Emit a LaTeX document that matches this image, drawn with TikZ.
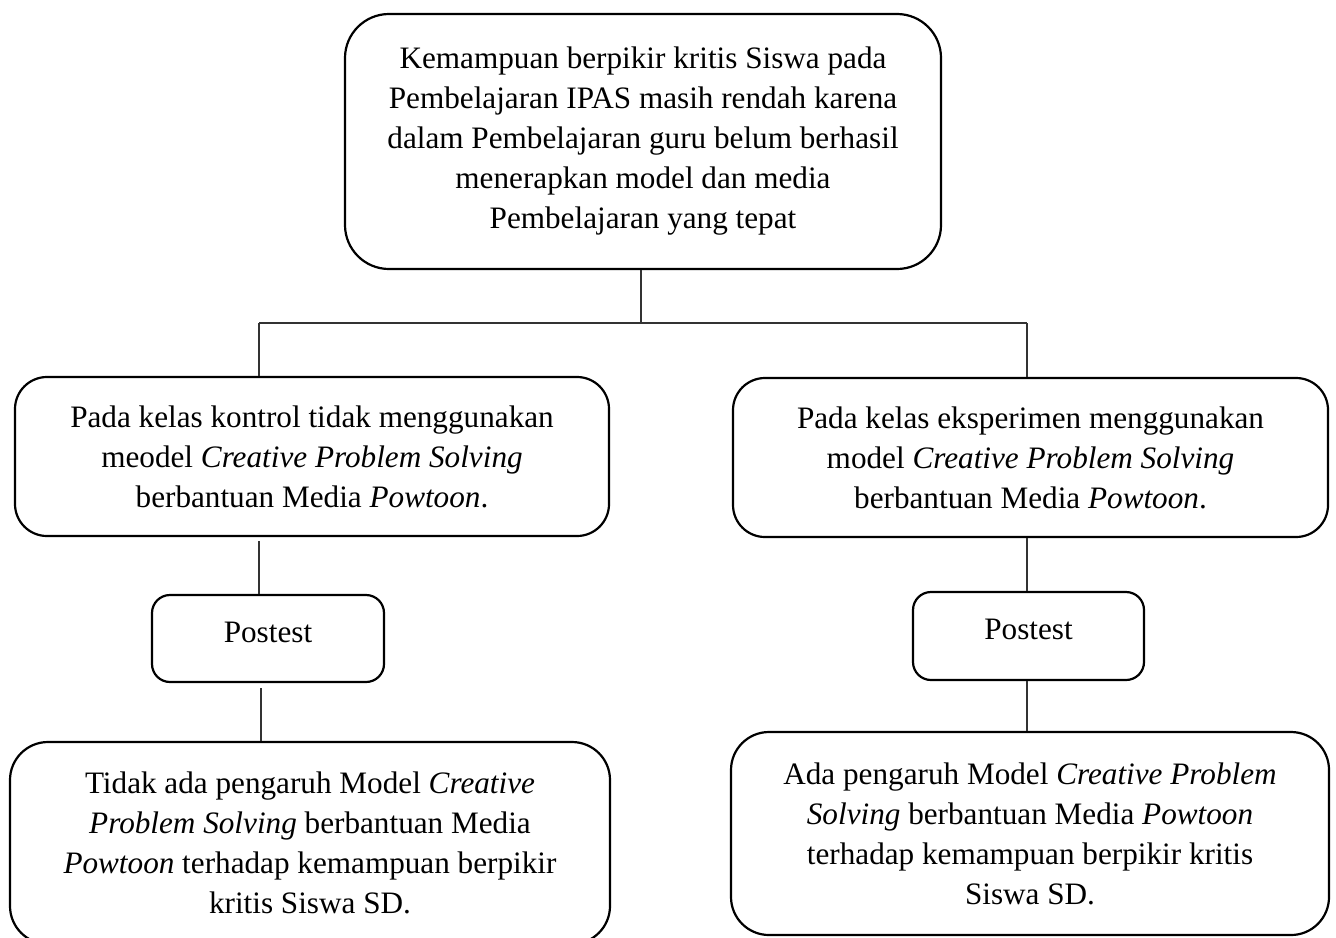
\documentclass[tikz,border=0pt]{standalone}
\usepackage{fontspec}
\setmainfont{Liberation Serif}
\begin{document}
\begin{tikzpicture}[x=0.5pt,y=-0.5pt,
  box/.style={draw=black, line width=1.1pt, align=center, inner sep=0pt,
    font=\fontsize{15.6}{20}\selectfont},
  conn/.style={draw=black!80, line width=0.75pt}]
\useasboundingbox (0,0) rectangle (1336,937);
\node[box, rounded corners=22pt, minimum width=298pt, minimum height=127.5pt] (top) at (643,141.5)
  {Kemampuan berpikir kritis Siswa pada\\Pembelajaran IPAS masih rendah karena\\dalam Pembelajaran guru belum berhasil\\menerapkan model dan media\\Pembelajaran yang tepat};
\node[box, rounded corners=16pt, minimum width=297pt, minimum height=79.5pt] (lmid) at (312,456.5)
  {Pada kelas kontrol tidak menggunakan\\meodel \textit{Creative Problem Solving}\\berbantuan Media \textit{Powtoon}.};
\node[box, rounded corners=16pt, minimum width=297.5pt, minimum height=79.5pt] (rmid) at (1030.5,457.5)
  {Pada kelas eksperimen menggunakan\\model \textit{Creative Problem Solving}\\berbantuan Media \textit{Powtoon}.};
\node[box, rounded corners=9pt, minimum width=116pt, minimum height=43.5pt] (lpost) at (268,638.5)
  {\raisebox{6pt}{Postest}};
\node[box, rounded corners=9pt, minimum width=115.5pt, minimum height=44pt] (rpost) at (1028.5,636)
  {\raisebox{6.5pt}{Postest}};
\node[box, rounded corners=19pt, minimum width=300pt, minimum height=101pt] (lbot) at (310,843)
  {Tidak ada pengaruh Model \textit{Creative}\\\textit{Problem Solving} berbantuan Media\\\textit{Powtoon} terhadap kemampuan berpikir\\kritis Siswa SD.};
\node[box, rounded corners=19pt, minimum width=299pt, minimum height=101.5pt] (rbot) at (1030,833.5)
  {Ada pengaruh Model \textit{Creative Problem}\\\textit{Solving} berbantuan Media \textit{Powtoon}\\terhadap kemampuan berpikir kritis\\Siswa SD.};
\coordinate (jm) at (641,323);
\coordinate (jl) at (259,323);
\coordinate (jr) at (1027,323);
\draw[conn] (top.south -| jm) -- (jm);
\draw[conn] (jl) -- (jr);
\draw[conn] (jl) -- (jl |- lmid.north);
\draw[conn] (jr) -- (jr |- rmid.north);
\draw[conn] ([yshift=-2pt]lmid.south -| jl) -- (lpost.north -| jl);
\draw[conn] ([yshift=-2.5pt,xshift=1pt]lpost.south -| jl) -- ([xshift=1pt]lbot.north -| jl);
\draw[conn] (rmid.south -| jr) -- (rpost.north -| jr);
\draw[conn] (rpost.south -| jr) -- (rbot.north -| jr);
\end{tikzpicture}
\end{document}
